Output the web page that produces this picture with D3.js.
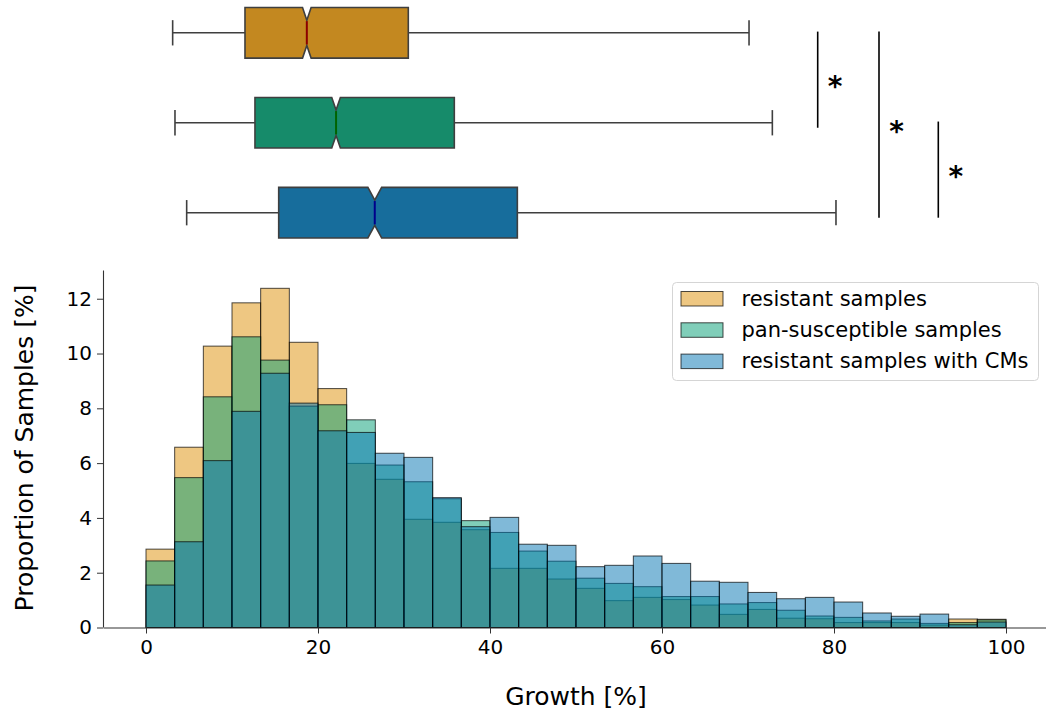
<!DOCTYPE html>
<html>
<head>
<meta charset="utf-8">
<script src="https://cdn.jsdelivr.net/npm/d3@7"></script>
<style>
  body { margin: 0; background: #fff; }
  svg { display: block; }
  text { font-family: "DejaVu Sans", sans-serif; fill: #000; }
</style>
</head>
<body>
<svg id="chart" width="1046" height="717"></svg>
<script>
// ---- data ----
const seriesNames = ["resistant samples", "pan-susceptible samples", "resistant samples with CMs"];
const seriesColors = ["#de8f05", "#029e73", "#0173b2"];
const boxColors = ["#c38820", "#168b6a", "#176d9c"];
const medianColors = ["#8b0000", "#006400", "#00008b"];

// histogram: 30 equal bins over 0–100 % growth, values in % of samples
const binCount = 30;
const growthRange = [0, 100];
const resistant = [2.86, 6.58, 10.27, 11.85, 12.38, 10.41, 8.72, 5.99, 5.41, 3.95,
                   3.84, 3.57, 2.16, 2.16, 1.77, 1.43, 0.98, 1.10, 1.02, 0.82,
                   0.48, 0.66, 0.34, 0.32, 0.18, 0.18, 0.18, 0.09, 0.31, 0.30];
const panSusceptible = [2.43, 5.47, 8.42, 10.61, 9.76, 8.08, 8.13, 7.58, 5.93, 5.32,
                        4.70, 3.90, 3.47, 2.79, 2.42, 1.80, 1.61, 1.49, 1.13, 1.13,
                        0.86, 0.91, 0.63, 0.42, 0.37, 0.24, 0.31, 0.15, 0.18, 0.28];
const resistantCMs = [1.55, 3.13, 6.09, 7.89, 9.28, 8.19, 7.18, 7.12, 6.36, 6.21,
                      4.74, 3.68, 4.02, 3.04, 3.00, 2.22, 2.27, 2.61, 2.34, 1.69,
                      1.65, 1.28, 1.05, 1.10, 0.93, 0.53, 0.41, 0.49, 0.10, 0.20];

const xTicks = [0, 20, 40, 60, 80, 100];
const yTicks = [0, 2, 4, 6, 8, 10, 12];
const xLabel = "Growth [%]";
const yLabel = "Proportion of Samples [%]";

// notched box plots (growth %), one per group
const whiskerLow  = [3.10, 3.37, 4.73];
const quartile1   = [11.51, 12.67, 15.43];
const medians     = [18.70, 22.10, 26.60];
const notchLow    = [18.20, 21.60, 25.80];
const notchHigh   = [19.20, 22.60, 27.40];
const quartile3   = [30.50, 35.85, 43.18];
const whiskerHigh = [70.12, 72.83, 80.23];

// pairwise significance markers between groups
const sigPairs = [[0, 1], [0, 2], [1, 2]];
const sigLabels = ["*", "*", "*"];

// ---- layout ----
const W = 1046, H = 717;
const plot = { left: 103, right: 1049, top: 270.5, bottom: 627.5 };
const boxRows = { top: 32.8, bottom: 212.7, height: 50.6 };
const sigLineX = [817.7, 879, 938.3];
const tickFont = 20, labelFont = 25, legendFont = 21, starFont = 28;

const svg = d3.select("#chart");

const x = d3.scaleLinear().domain([-5, 105]).range([plot.left, plot.right]);
const y = d3.scaleLinear().domain([0, 13.03]).range([plot.bottom, plot.top]);

// ---- histogram ----
const binWidth = (growthRange[1] - growthRange[0]) / binCount;
const allSeries = [resistant, panSusceptible, resistantCMs];

const hist = svg.append("g");
allSeries.forEach((values, si) => {
  hist.append("g")
    .selectAll("rect")
    .data(values)
    .join("rect")
    .attr("x", (d, i) => x(growthRange[0] + i * binWidth))
    .attr("width", (d, i) => x(growthRange[0] + (i + 1) * binWidth) - x(growthRange[0] + i * binWidth))
    .attr("y", d => y(d))
    .attr("height", d => y(0) - y(d))
    .attr("fill", seriesColors[si])
    .attr("fill-opacity", 0.5)
    .attr("stroke", "#000")
    .attr("stroke-opacity", 0.7)
    .attr("stroke-width", 1);
});

// ---- axes ----
const xAxis = svg.append("g")
  .attr("transform", `translate(0,${plot.bottom})`)
  .call(d3.axisBottom(x).tickValues(xTicks).tickFormat(d3.format("d"))
        .tickSize(6).tickSizeOuter(0).tickPadding(6));
const yAxis = svg.append("g")
  .attr("transform", `translate(${plot.left},0)`)
  .call(d3.axisLeft(y).tickValues(yTicks).tickFormat(d3.format("d"))
        .tickSize(6).tickSizeOuter(0).tickPadding(5));
[xAxis, yAxis].forEach(a => {
  a.selectAll("text").attr("font-size", tickFont).attr("font-family", "DejaVu Sans").attr("fill", "#000");
  a.selectAll("line").attr("stroke", "#333").attr("stroke-width", 1);
  a.select(".domain").attr("stroke", "#333").attr("stroke-width", 1.1);
});
yAxis.select(".domain").attr("d", `M0.5,${plot.bottom}V${plot.top}`);

svg.append("text")
  .attr("x", (plot.left + plot.right) / 2)
  .attr("y", 705)
  .attr("text-anchor", "middle")
  .attr("font-size", labelFont)
  .text(xLabel);

svg.append("text")
  .attr("transform", `translate(33,448) rotate(-90)`)
  .attr("text-anchor", "middle")
  .attr("font-size", labelFont)
  .text(yLabel);

// ---- legend ----
const legend = svg.append("g").attr("transform", "translate(672.5,282.5)");
legend.append("rect")
  .attr("width", 366).attr("height", 98)
  .attr("rx", 4)
  .attr("fill", "#fff").attr("fill-opacity", 0.8)
  .attr("stroke", "#d5d5d5").attr("stroke-width", 1);
seriesNames.forEach((name, i) => {
  const row = legend.append("g").attr("transform", `translate(0,${16 + i * 31.3})`);
  row.append("rect")
    .attr("x", 8.5).attr("y", -7).attr("width", 42).attr("height", 14.5)
    .attr("fill", seriesColors[i]).attr("fill-opacity", 0.5)
    .attr("stroke", "#000").attr("stroke-opacity", 0.7).attr("stroke-width", 1);
  row.append("text")
    .attr("x", 69).attr("y", 0).attr("dy", "0.35em")
    .attr("font-size", legendFont)
    .text(name);
});

// ---- box plots ----
const rowY = d3.scalePoint().domain([0, 1, 2]).range([boxRows.top, boxRows.bottom]);
const half = boxRows.height / 2;
const boxes = svg.append("g");
[0, 1, 2].forEach(i => {
  const cy = rowY(i);
  const g = boxes.append("g");
  // whiskers + caps
  g.append("line").attr("x1", x(whiskerLow[i])).attr("x2", x(quartile1[i]))
    .attr("y1", cy).attr("y2", cy);
  g.append("line").attr("x1", x(quartile3[i])).attr("x2", x(whiskerHigh[i]))
    .attr("y1", cy).attr("y2", cy);
  [whiskerLow[i], whiskerHigh[i]].forEach(v => {
    g.append("line").attr("x1", x(v)).attr("x2", x(v))
      .attr("y1", cy - half / 2).attr("y2", cy + half / 2);
  });
  g.selectAll("line").attr("stroke", "#3f3f3f").attr("stroke-width", 1.6);
  // notched box
  const top = cy - half, bot = cy + half, inTop = cy - half / 2, inBot = cy + half / 2;
  const pts = [
    [x(quartile1[i]), top], [x(notchLow[i]), top], [x(medians[i]), inTop],
    [x(notchHigh[i]), top], [x(quartile3[i]), top], [x(quartile3[i]), bot],
    [x(notchHigh[i]), bot], [x(medians[i]), inBot], [x(notchLow[i]), bot],
    [x(quartile1[i]), bot]
  ];
  g.append("path")
    .attr("d", d3.line()(pts) + "Z")
    .attr("fill", boxColors[i])
    .attr("stroke", "#3f3f3f").attr("stroke-width", 1.6)
    .attr("stroke-linejoin", "miter");
  g.append("line")
    .attr("x1", x(medians[i])).attr("x2", x(medians[i]))
    .attr("y1", inTop + 1).attr("y2", inBot - 1)
    .attr("stroke", medianColors[i]).attr("stroke-width", 2);
});

// ---- significance markers ----
const sig = svg.append("g");
sigPairs.forEach(([a, b], k) => {
  const y1 = rowY(a) - 1.2, y2 = rowY(b) + 5;
  sig.append("line")
    .attr("x1", sigLineX[k]).attr("x2", sigLineX[k])
    .attr("y1", y1).attr("y2", y2)
    .attr("stroke", "#000").attr("stroke-width", 1.6);
  const starCenter = (y1 + y2) / 2 + 2.8;
  sig.append("text")
    .attr("x", sigLineX[k] + 17.5)
    .attr("y", starCenter + 0.47 * starFont)
    .attr("text-anchor", "middle")
    .attr("font-size", starFont)
    .attr("font-weight", "bold")
    .text(sigLabels[k]);
});
</script>
</body>
</html>
